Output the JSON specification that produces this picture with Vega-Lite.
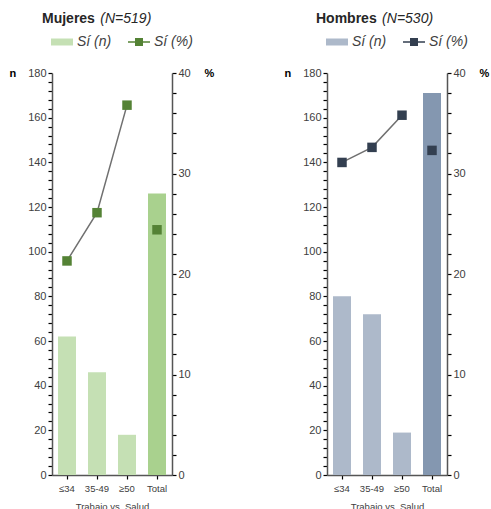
{
  "$schema": "https://vega.github.io/schema/vega-lite/v6.json",
  "padding": {"left": 9, "top": 12, "right": 4, "bottom": 0},
  "config": {
    "font": "Liberation Sans",
    "view": {"stroke": null},
    "axis": {"grid": false, "domainColor": "#555555", "domainWidth": 1.5, "tickColor": "#000000", "tickWidth": 1.2, "labelColor": "#404040", "titleColor": "#000000", "labelFontSize": 11},
    "title": {"fontSize": 14, "color": "#262626"}
  },
  "datasets": {
    "mujeres": [
      {"cat": "≤34", "n": 62, "pct": 21.3},
      {"cat": "35-49", "n": 46, "pct": 26.1},
      {"cat": "≥50", "n": 18, "pct": 36.8},
      {"cat": "Total", "n": 126, "pct": 24.4}
    ],
    "hombres": [
      {"cat": "≤34", "n": 80, "pct": 31.1},
      {"cat": "35-49", "n": 72, "pct": 32.6},
      {"cat": "≥50", "n": 19, "pct": 35.8},
      {"cat": "Total", "n": 171, "pct": 32.3}
    ]
  },
  "spacing": 70,
  "resolve": {"scale": {"color": "independent", "x": "independent", "y": "independent"}, "legend": {"color": "independent"}},
  "hconcat": [
    {
      "title": {"text": "Mujeres", "subtitle": "\u200b\u00a0\u00a0\u00a0\u00a0\u00a0\u00a0\u00a0\u00a0\u00a0\u00a0\u00a0\u00a0\u00a0\u00a0\u00a0(N=519)", "anchor": "start", "frame": "group", "dx": -10, "fontWeight": "bold", "subtitleFontSize": 14, "subtitleFontStyle": "italic", "subtitleColor": "#262626", "subtitlePadding": -14, "offset": 6},
      "data": {"name": "mujeres"},
      "width": 120,
      "height": 402,
      "resolve": {"scale": {"y": "independent"}},
      "layer": [
        {
          "mark": {"type": "bar"},
          "encoding": {
            "x": {"field": "cat", "type": "nominal", "sort": ["≤34", "35-49", "≥50", "Total"], "scale": {"paddingInner": 0.4, "paddingOuter": 0.2},
                  "axis": {"title": "Trabajo vs. Salud", "labelAngle": 0, "labelFontSize": 9.5, "titleFontSize": 9.5, "titleFontWeight": "normal", "titleColor": "#404040", "tickSize": 4, "labelPadding": 4, "titlePadding": 9}},
            "y": {"field": "n", "type": "quantitative", "scale": {"domain": [0, 180]},
                  "axis": {"title": "n", "values": [0,4,8,12,16,20,24,28,32,36,40,44,48,52,56,60,64,68,72,76,80,84,88,92,96,100,104,108,112,116,120,124,128,132,136,140,144,148,152,156,160,164,168,172,176,180],
                           "labelExpr": "datum.value % 20 === 0 ? datum.label : ''", "labelOverlap": false, "tickSize": 4, "titleAngle": 0, "titleFontWeight": "bold", "titleFontSize": 11, "titleX": -43, "titleY": 0, "titleAlign": "left", "titleBaseline": "middle"}},
            "color": {
              "datum": "Sí (n)", "type": "nominal",
              "condition": {"test": "datum.cat === 'Total'", "value": "#a9d18e"},
              "scale": {"domain": ["Sí (n)", "Sí (%)"], "range": ["#c5e0b4", "#548235"]},
              "legend": {"orient": "top", "direction": "horizontal", "title": null, "labelFontStyle": "italic", "labelFontSize": 14, "labelColor": "#404040", "symbolSize": 400, "symbolStrokeWidth": 0, "columnPadding": 16, "labelOffset": 5, "offset": 24, "padding": 0,
                "encode": {"symbols": {"update": {"shape": {"signal": "datum.value === 'Sí (n)' ? 'M-1.1,-0.35H1.1V0.35H-1.1Z' : 'M-1.1,-0.07H1.1V0.07H-1.1ZM-0.4,-0.4H0.4V0.4H-0.4Z'"}}}}}
            }
          }
        },
        {
          "encoding": {
            "x": {"field": "cat", "type": "nominal", "sort": ["≤34", "35-49", "≥50", "Total"]},
            "y": {"field": "pct", "type": "quantitative", "scale": {"domain": [0, 40]},
                  "axis": {"orient": "right", "title": "%", "values": [0,2,4,6,8,10,12,14,16,18,20,22,24,26,28,30,32,34,36,38,40],
                           "labelExpr": "datum.value % 10 === 0 ? datum.label : ''", "labelOverlap": false, "tickSize": 4, "titleAngle": 0, "titleFontWeight": "bold", "titleFontSize": 11, "titleX": 32, "titleY": 0, "titleAlign": "left", "titleBaseline": "middle"}}
          },
          "layer": [
            {
              "transform": [{"filter": "datum.cat !== 'Total'"}],
              "mark": {"type": "line", "color": "#707070", "strokeWidth": 1.5}
            },
            {
              "mark": {"type": "point", "shape": "square", "filled": true, "size": 90, "opacity": 1},
              "encoding": {
                "color": {"datum": "Sí (%)", "type": "nominal"}
              }
            }
          ]
        }
      ]
    },
    {
      "title": {"text": "Hombres", "subtitle": "\u200b\u00a0\u00a0\u00a0\u00a0\u00a0\u00a0\u00a0\u00a0\u00a0\u00a0\u00a0\u00a0\u00a0\u00a0\u00a0\u00a0\u00a0(N=530)", "anchor": "start", "frame": "group", "dx": -11, "fontWeight": "bold", "subtitleFontSize": 14, "subtitleFontStyle": "italic", "subtitleColor": "#262626", "subtitlePadding": -14, "offset": 6},
      "data": {"name": "hombres"},
      "width": 120,
      "height": 402,
      "resolve": {"scale": {"y": "independent"}},
      "layer": [
        {
          "mark": {"type": "bar"},
          "encoding": {
            "x": {"field": "cat", "type": "nominal", "sort": ["≤34", "35-49", "≥50", "Total"], "scale": {"paddingInner": 0.4, "paddingOuter": 0.2},
                  "axis": {"title": "Trabajo vs. Salud", "labelAngle": 0, "labelFontSize": 9.5, "titleFontSize": 9.5, "titleFontWeight": "normal", "titleColor": "#404040", "tickSize": 4, "labelPadding": 4, "titlePadding": 9}},
            "y": {"field": "n", "type": "quantitative", "scale": {"domain": [0, 180]},
                  "axis": {"title": "n", "values": [0,4,8,12,16,20,24,28,32,36,40,44,48,52,56,60,64,68,72,76,80,84,88,92,96,100,104,108,112,116,120,124,128,132,136,140,144,148,152,156,160,164,168,172,176,180],
                           "labelExpr": "datum.value % 20 === 0 ? datum.label : ''", "labelOverlap": false, "tickSize": 4, "titleAngle": 0, "titleFontWeight": "bold", "titleFontSize": 11, "titleX": -43, "titleY": 0, "titleAlign": "left", "titleBaseline": "middle"}},
            "color": {
              "datum": "Sí (n)", "type": "nominal",
              "condition": {"test": "datum.cat === 'Total'", "value": "#8497b0"},
              "scale": {"domain": ["Sí (n)", "Sí (%)"], "range": ["#adb9ca", "#333f50"]},
              "legend": {"orient": "top", "direction": "horizontal", "title": null, "labelFontStyle": "italic", "labelFontSize": 14, "labelColor": "#404040", "symbolSize": 400, "symbolStrokeWidth": 0, "columnPadding": 16, "labelOffset": 5, "offset": 24, "padding": 0,
                "encode": {"symbols": {"update": {"shape": {"signal": "datum.value === 'Sí (n)' ? 'M-1.1,-0.35H1.1V0.35H-1.1Z' : 'M-1.1,-0.07H1.1V0.07H-1.1ZM-0.4,-0.4H0.4V0.4H-0.4Z'"}}}}}
            }
          }
        },
        {
          "encoding": {
            "x": {"field": "cat", "type": "nominal", "sort": ["≤34", "35-49", "≥50", "Total"]},
            "y": {"field": "pct", "type": "quantitative", "scale": {"domain": [0, 40]},
                  "axis": {"orient": "right", "title": "%", "values": [0,2,4,6,8,10,12,14,16,18,20,22,24,26,28,30,32,34,36,38,40],
                           "labelExpr": "datum.value % 10 === 0 ? datum.label : ''", "labelOverlap": false, "tickSize": 4, "titleAngle": 0, "titleFontWeight": "bold", "titleFontSize": 11, "titleX": 32, "titleY": 0, "titleAlign": "left", "titleBaseline": "middle"}}
          },
          "layer": [
            {
              "transform": [{"filter": "datum.cat !== 'Total'"}],
              "mark": {"type": "line", "color": "#707070", "strokeWidth": 1.5}
            },
            {
              "mark": {"type": "point", "shape": "square", "filled": true, "size": 90, "opacity": 1},
              "encoding": {
                "color": {"datum": "Sí (%)", "type": "nominal"}
              }
            }
          ]
        }
      ]
    }
  ]
}
